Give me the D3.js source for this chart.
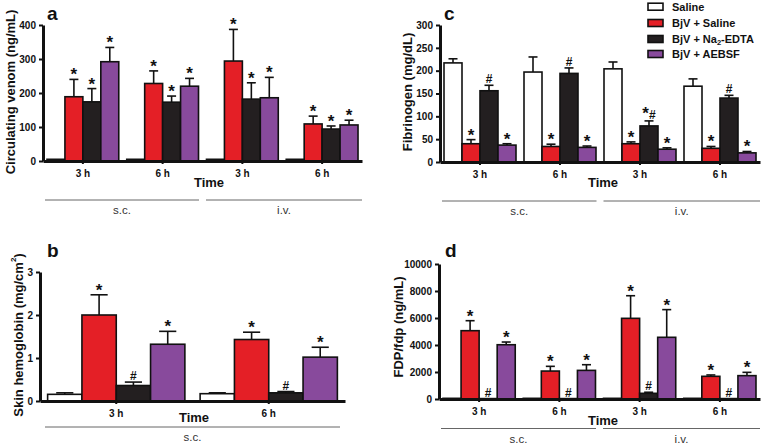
<!DOCTYPE html>
<html><head><meta charset="utf-8">
<script src="https://cdn.jsdelivr.net/npm/d3@7"></script>
<style>body{margin:0;background:#fff} text{font-family:Arial,"Liberation Sans",sans-serif}</style>
</head><body><svg id="c" width="765" height="448"></svg>
<script>
const seriesNames = ["Saline", "BjV + Saline", "BjV + Na2-EDTA", "BjV + AEBSF"];
const seriesColors = ["#ffffff", "#e41f26", "#231f20", "#884a9c"];
const timeLabels4 = ["3 h", "6 h", "3 h", "6 h"];
const timeLabels2 = ["3 h", "6 h"];
const routeLabels4 = ["s.c.", "i.v."];
const routeLabels2 = ["s.c."];

const venomMean = [[5,189,174,292],[5,228,173,220],[5,294,182,186],[5,109,94,106]];
const venomErr  = [[5,240,213,334],[5,265,191,243],[5,387,230,246],[5,132,103,120]];
const venomMarks = [["","*","*","*"],["","*","*","*"],["","*","*","*"],["","*","*","*"]];
const venomTicks = [0,100,200,300,400];

const hemoMean = [[0.155,2.0,0.36,1.32],[0.17,1.43,0.19,1.02]];
const hemoErr  = [[0.19,2.47,0.44,1.62],[0.19,1.60,0.22,1.25]];
const hemoMarks = [["","*","#","*"],["","*","#","*"]];
const hemoTicks = [0,1,2,3];

const fibMean = [[217,40,156,37],[197,34,194,32],[204,40,79,28],[166,30,140,20]];
const fibErr  = [[226,49,168,40],[230,39,206,35],[219,44,90,31],[182,34,146,23]];
const fibMarks = [["","*","#","*"],["","*","#","*"],["","*","*#","*"],["","*","#","*"]];
const fibTicks = [0,50,100,150,200,250,300];

const fdpMean = [[50,5060,30,4020],[50,2070,30,2120],[50,5975,420,4570],[50,1680,30,1730]];
const fdpErr  = [[50,5800,30,4220],[50,2420,30,2540],[50,7650,500,6620],[50,1780,30,1975]];
const fdpMarks = [["","*","#","*"],["","*","#","*"],["","*","#","*"],["","*","#","*"]];
const fdpTicks = [0,2000,4000,6000,8000,10000];

const svg = d3.select("#c");

function panel(cfg){
  const g = svg.append("g");
  const x = d3.scaleBand().domain(d3.range(cfg.times.length)).range(cfg.xr).paddingInner(0.1).paddingOuter(0.05);
  const s = d3.scaleBand().domain(d3.range(seriesNames.length)).range([0, x.bandwidth()]);
  const y = d3.scaleLinear().domain([0, d3.max(cfg.ticks)]).range(cfg.yr);
  const data = [];
  cfg.mean.forEach((row,i)=>row.forEach((v,j)=>data.push({i,j,v,e:cfg.err[i][j],m:cfg.marks[i][j]})));
  const bw = s.bandwidth();
  // error bars
  const eb = g.selectAll("g.eb").data(data.filter(d=>d.e>d.v)).join("g").attr("stroke","#111").attr("stroke-width",1.6);
  eb.append("line").attr("x1",d=>x(d.i)+s(d.j)+bw/2).attr("x2",d=>x(d.i)+s(d.j)+bw/2).attr("y1",d=>y(d.v)).attr("y2",d=>y(d.e));
  eb.append("line").attr("x1",d=>x(d.i)+s(d.j)+bw/4).attr("x2",d=>x(d.i)+s(d.j)+bw*3/4).attr("y1",d=>y(d.e)).attr("y2",d=>y(d.e));
  // bars
  g.selectAll("rect.bar").data(data).join("rect").attr("class","bar")
    .attr("x",d=>x(d.i)+s(d.j)).attr("width",bw)
    .attr("y",d=>y(d.v)).attr("height",d=>y(0)-y(d.v))
    .attr("fill",d=>seriesColors[d.j]).attr("stroke","#111").attr("stroke-width",1.6);
  // marks
  const mk = g.selectAll("text.mk").data(data.filter(d=>d.m)).join("text").attr("class","mk")
    .attr("text-anchor","middle").attr("font-weight","bold").attr("fill","#111")
    .attr("x",d=>x(d.i)+s(d.j)+bw/2)
    .attr("y",d=>d.m==="*"? y(d.e)+1 : y(d.e)-2);
  mk.each(function(d){
    const t=d3.select(this);
    for(const ch of d.m){
      t.append("tspan").text(ch).attr("font-size", ch==="*"?17:12);
    }
  });
  // axes
  const ya = g.append("g").attr("transform",`translate(${cfg.xr[0]},0)`)
    .call(d3.axisLeft(y).tickValues(cfg.ticks).tickFormat(d3.format("d")).tickSize(4).tickPadding(3).tickSizeOuter(0));
  ya.select(".domain").attr("stroke-width",3).attr("stroke","#111");
  ya.selectAll(".tick line").attr("stroke-width",2).attr("stroke","#111");
  ya.selectAll(".tick text").attr("font-size",10).attr("font-weight","bold").attr("fill","#111").attr("font-family",null);
  const xa = g.append("g").attr("transform",`translate(0,${y(0)})`)
    .call(d3.axisBottom(x).tickFormat(i=>cfg.times[i]).tickSize(3).tickPadding(6).tickSizeOuter(0));
  xa.select(".domain").attr("stroke-width",3).attr("stroke","#111");
  xa.selectAll(".tick line").attr("stroke-width",2).attr("stroke","#111");
  xa.selectAll(".tick text").attr("font-size",10).attr("font-weight","bold").attr("fill","#111").attr("font-family",null);
  // titles
  g.append("text").attr("x",cfg.letter[0]).attr("y",cfg.letter[1]).attr("font-size",19).attr("font-weight","bold").attr("fill","#111").text(cfg.name);
  const yt = g.append("text").attr("transform",`translate(${cfg.ytitle[0]},${cfg.ytitle[1]}) rotate(-90)`)
    .attr("text-anchor","middle").attr("dominant-baseline","central").attr("font-size",13).attr("font-weight","bold").attr("fill","#111");
  yt.append("tspan").text(cfg.ylabel[0]);
  if(cfg.ylabel[1]){ yt.append("tspan").text(cfg.ylabel[1]).attr("font-size",8).attr("dy",-5); yt.append("tspan").text(cfg.ylabel[2]).attr("dy",5); }
  g.append("text").attr("x",cfg.time[0]).attr("y",cfg.time[1]).attr("text-anchor","middle").attr("dominant-baseline","central")
    .attr("font-size",13).attr("font-weight","bold").attr("fill","#111").text("Time");
  // route lines
  const r0 = cfg.xr[0], r1 = cfg.xr[1];
  let segs;
  if(cfg.routes.length===2){
    const mid = (x(1)+x.bandwidth()+x(2))/2;
    segs = [[r0+2, mid-3.5],[mid+3.5, r1]];
  } else segs = [[r0+5, r1-5]];
  segs.forEach((sg,k)=>{
    g.append("line").attr("x1",sg[0]).attr("x2",sg[1]).attr("y1",cfg.lineY).attr("y2",cfg.lineY).attr("stroke","#666").attr("stroke-width",1);
    g.append("text").attr("x",(sg[0]+sg[1])/2).attr("y",cfg.lineY+14).attr("text-anchor","middle").attr("font-size",11.5).attr("fill","#333").text(cfg.routes[k]);
  });
}

panel({name:"a",times:timeLabels4,routes:routeLabels4,mean:venomMean,err:venomErr,marks:venomMarks,ticks:venomTicks,
  xr:[43,362],yr:[161,25],letter:[47,19.5],ytitle:[10,92],ylabel:["Circulating venom (ng/mL)"],time:[209,182],lineY:200});
panel({name:"b",times:timeLabels2,routes:routeLabels2,mean:hemoMean,err:hemoErr,marks:hemoMarks,ticks:hemoTicks,
  xr:[40,345],yr:[401,272],letter:[47,257],ytitle:[18,335],ylabel:["Skin hemoglobin (mg/cm","2",")"],time:[194,417],lineY:427});
panel({name:"c",times:timeLabels4,routes:routeLabels4,mean:fibMean,err:fibErr,marks:fibMarks,ticks:fibTicks,
  xr:[440,760],yr:[162,25],letter:[444,20],ytitle:[407,92],ylabel:["Fibrinogen (mg/dL)"],time:[603,182],lineY:201});
panel({name:"d",times:timeLabels4,routes:routeLabels4,mean:fdpMean,err:fdpErr,marks:fdpMarks,ticks:fdpTicks,
  xr:[439,760],yr:[399,264],letter:[445,257],ytitle:[398,327],ylabel:["FDP/fdp (ng/mL)"],time:[603,420],lineY:428.5});

// legend
const lg = svg.append("g");
const rowsY = [6.7, 23, 39, 54];
seriesNames.forEach((n,k)=>{
  lg.append("rect").attr("x",648).attr("y",rowsY[k]-3.5).attr("width",15).attr("height",7)
    .attr("fill",seriesColors[k]).attr("stroke","#111").attr("stroke-width",1.6);
  const t = lg.append("text").attr("x",672).attr("y",rowsY[k]).attr("dominant-baseline","central")
    .attr("font-size",11).attr("font-weight","bold").attr("fill","#111");
  const m = n.match(/^(.*Na)2(-.*)$/);
  if(m){ t.append("tspan").text(m[1]); t.append("tspan").text("2").attr("font-size",7.5).attr("dy",3); t.append("tspan").text(m[2]).attr("dy",-3); }
  else t.text(n);
});
</script></body></html>
